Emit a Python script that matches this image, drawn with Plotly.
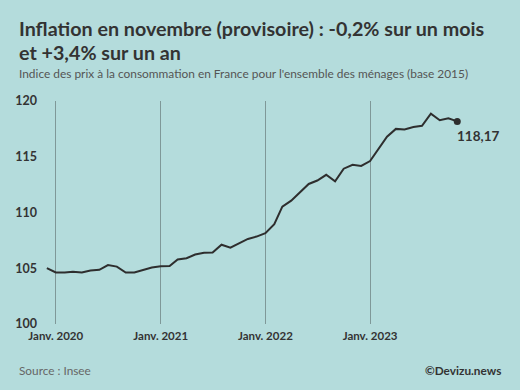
import plotly.graph_objects as go
import pandas as pd

# ---- data ----
months = pd.date_range("2019-12-01", "2023-11-01", freq="MS")
values = [
    105.01,
    104.62, 104.62, 104.68, 104.62, 104.80, 104.86, 105.28, 105.15, 104.62, 104.62, 104.86, 105.06,
    105.18, 105.20, 105.78, 105.90, 106.23, 106.38, 106.42, 107.11, 106.85, 107.25, 107.63, 107.84,
    108.14, 108.95, 110.52, 111.06, 111.77, 112.56, 112.87, 113.38, 112.79, 113.93, 114.28, 114.18,
    114.61, 115.80, 116.80, 117.50, 117.45, 117.67, 117.78, 118.87, 118.27, 118.45, 118.17,
]
tick_dates = ["2020-01-01", "2021-01-01", "2022-01-01", "2023-01-01"]
tick_labels = ["Janv. 2020", "Janv. 2021", "Janv. 2022", "Janv. 2023"]
y_ticks = [100, 105, 110, 115, 120]
last_label = "118,17"

title1 = "Inflation en novembre (provisoire) : -0,2% sur un mois"
title2 = "et +3,4% sur un an"
subtitle = "Indice des prix à la consommation en France pour l'ensemble des ménages (base 2015)"
source = "Source : Insee"
credit = "©Devizu.news"

# ---- layout geometry ----
W, H = 520, 390
L, R, T, B = 44, 20, 101, 66
pw, ph = W - L - R, H - T - B

def px(x):
    return (x - L) / pw

def py(y):
    return (H - B - y) / ph

BG = "#b4dcdc"
DARK = "#2e2e2e"
FONT = "Lato"

fig = go.Figure()
fig.add_trace(go.Scatter(
    x=months, y=values, mode="lines",
    line=dict(color=DARK, width=2),
    hoverinfo="skip", showlegend=False,
))
fig.add_trace(go.Scatter(
    x=[months[-1]], y=[values[-1]], mode="markers",
    marker=dict(color=DARK, size=7),
    hoverinfo="skip", showlegend=False,
))

ann = [
    dict(text=f"<b>{title1}</b>", x=px(17), y=py(29), size=19.7, color="#333333"),
    dict(text=f"<b>{title2}</b>", x=px(17), y=py(52), size=19.7, color="#333333"),
    dict(text=subtitle, x=px(17), y=py(73), size=11.9, color="#555555"),
    dict(text=source, x=px(17), y=py(370), size=11.8, color="#666666"),
]
annotations = []
for a in ann:
    annotations.append(dict(
        text=a["text"], xref="paper", yref="paper", x=a["x"], y=a["y"],
        xanchor="left", yanchor="middle", showarrow=False,
        font=dict(family=FONT, size=a["size"], color=a["color"]),
    ))
annotations.append(dict(
    text=f"<b>{credit}</b>", xref="paper", yref="paper", x=px(503), y=py(370),
    xanchor="right", yanchor="middle", showarrow=False,
    font=dict(family=FONT, size=11.8, color="#333333"),
))
annotations.append(dict(
    text=f"<b>{last_label}</b>", x=months[-1], y=values[-1],
    xanchor="left", yanchor="middle", xshift=-2, yshift=-15, showarrow=False,
    font=dict(family=FONT, size=13.5, color="#333333"),
))

fig.update_layout(
    width=W, height=H,
    margin=dict(l=L, r=R, t=T, b=B),
    paper_bgcolor=BG, plot_bgcolor=BG,
    annotations=annotations,
    xaxis=dict(
        type="date",
        range=["2019-11-21", "2024-03-29"],
        tickvals=tick_dates, ticktext=tick_labels,
        showgrid=True, gridcolor="#7f9898", gridwidth=1,
        zeroline=False, showline=False, ticks="",
        ticklabelstandoff=3,
        tickfont=dict(family=FONT, size=11.5, color="#333333", weight="bold"),
        fixedrange=True,
    ),
    yaxis=dict(
        range=[100, 120], tickvals=y_ticks,
        showgrid=False, zeroline=False, showline=False, ticks="",
        ticklabelstandoff=6,
        tickfont=dict(family=FONT, size=12.5, color="#333333", weight="bold"),
        fixedrange=True,
    ),
)

fig.write_html(
    "out.html",
    config={"displayModeBar": False},
    post_script="document.body.style.margin='0';document.body.style.background='" + BG + "';",
)
